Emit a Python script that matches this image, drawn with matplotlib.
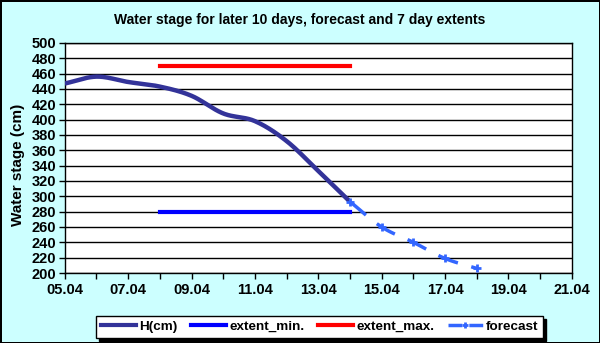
import numpy as np
import matplotlib.pyplot as plt
from matplotlib.lines import Line2D

# days of April
h_days = [5, 6, 7, 8, 9, 10, 11, 12, 13, 14]
h_values = [447, 456, 449, 443, 431, 408, 398, 372, 333, 293]

fc_days = [14, 15, 16, 17, 18]
fc_values = [293, 260, 240, 219, 206]

ext_days = [8, 14]
ext_min = [280, 280]
ext_max = [470, 470]

xtick_days = [5, 7, 9, 11, 13, 15, 17, 19, 21]
xtick_labels = ['05.04', '07.04', '09.04', '11.04', '13.04', '15.04', '17.04', '19.04', '21.04']
ytick_values = list(range(200, 501, 20))


def smooth(xs, ys, n=20):
    # Catmull-Rom smoothing similar to Excel's smoothed line
    x = np.asarray(xs, float)
    y = np.asarray(ys, float)
    px = np.concatenate([[2 * x[0] - x[1]], x, [2 * x[-1] - x[-2]]])
    py = np.concatenate([[2 * y[0] - y[1]], y, [2 * y[-1] - y[-2]]])
    ox, oy = [], []
    t = np.linspace(0, 1, n, endpoint=False)
    for i in range(1, len(px) - 2):
        for arr, out in ((px, ox), (py, oy)):
            p0, p1, p2, p3 = arr[i - 1], arr[i], arr[i + 1], arr[i + 2]
            out.extend(0.5 * (2 * p1 + (-p0 + p2) * t
                              + (2 * p0 - 5 * p1 + 4 * p2 - p3) * t ** 2
                              + (-p0 + 3 * p1 - 3 * p2 + p3) * t ** 3))
    ox.append(x[-1])
    oy.append(y[-1])
    return ox, oy


plt.rcParams['font.family'] = ['Liberation Sans', 'DejaVu Sans']
plt.rcParams['font.weight'] = 'bold'

fig = plt.figure(figsize=(6.0, 3.43), dpi=100)
fig.patch.set_facecolor('#CCFFFF')
fig.patch.set_edgecolor('black')
fig.patch.set_linewidth(2)

ax = fig.add_axes([0.108, 0.204, 0.845, 0.671])
ax.set_facecolor('white')

ax.set_xlim(5, 21)
ax.set_ylim(200, 500)
ax.set_yticks(ytick_values)
ax.set_xticks(xtick_days)
ax.set_xticklabels(xtick_labels)
ax.set_xticks(range(5, 22), minor=True)
ax.tick_params(axis='both', which='both', direction='out', length=4, width=1,
               labelsize=10.5, colors='black')
ax.tick_params(axis='x', pad=3)
ax.tick_params(axis='y', pad=2)
for lab in ax.get_xticklabels() + ax.get_yticklabels():
    lab.set_fontweight('bold')
ax.grid(axis='y', color='black', linewidth=1)
ax.set_axisbelow(True)
for sp in ax.spines.values():
    sp.set_color('black')
    sp.set_linewidth(1)

sx, sy = smooth(h_days, h_values)
ax.plot(sx, sy, color='#333399', linewidth=3.2, solid_capstyle='butt', zorder=3)
ax.plot(ext_days, ext_min, color='#0000FF', linewidth=3, zorder=3)
ax.plot(ext_days, ext_max, color='#FF0000', linewidth=3, zorder=3)
fx, fy = smooth(fc_days, fc_values)
ax.plot(fx, fy, color='#3366FF', linewidth=2.5, dashes=(6, 4), zorder=4)
ax.plot(fc_days, fc_values, linestyle='none', marker='+', markersize=6,
        markeredgewidth=2, color='#3366FF', zorder=4)

ax.set_ylabel('Water stage (cm)', fontsize=11, fontweight='bold')
ax.yaxis.set_label_coords(-0.078, 0.47)
fig.text(0.5, 0.942, 'Water stage for later 10 days, forecast and 7 day extents',
         ha='center', va='center', fontsize=10, fontweight='bold')

handles = [
    Line2D([], [], color='#333399', linewidth=3),
    Line2D([], [], color='#0000FF', linewidth=3),
    Line2D([], [], color='#FF0000', linewidth=3),
    Line2D([], [], color='#3366FF', linewidth=2.5, dashes=(4, 2), marker='+',
           markersize=5, markeredgewidth=2),
]
leg = fig.legend(handles, ['H(cm)', 'extent_min.', 'extent_max.', 'forecast'],
                 loc='center', bbox_to_anchor=(0.533, 0.047), ncol=4,
                 frameon=True, fancybox=False,
                 shadow={'color': 'black', 'alpha': 1},
                 handlelength=2.6, handletextpad=0.25, columnspacing=1.0,
                 borderpad=0.35, prop={'weight': 'bold', 'size': 9.7})
leg.get_frame().set_edgecolor('black')
leg.get_frame().set_linewidth(1)

fig.savefig('out.png', dpi=100, facecolor=fig.get_facecolor(),
            edgecolor=fig.get_edgecolor())
